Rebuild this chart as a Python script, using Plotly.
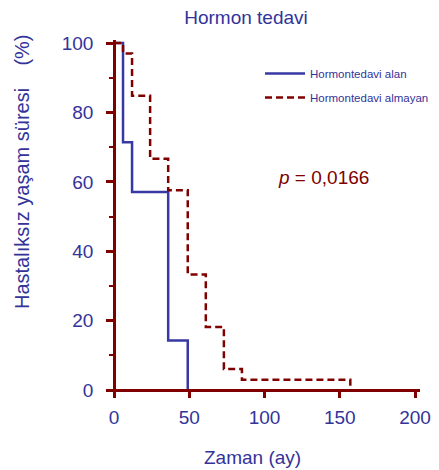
import plotly.graph_objects as go

# Kaplan-Meier step data (time in months, survival %)
alan_t = [0, 6, 12, 36, 49]
alan_s = [100, 71.4, 57.1, 14.3, 0]

almayan_t = [0, 6, 12, 24, 36, 49, 61, 73, 85, 157]
almayan_s = [100, 97.0, 84.8, 66.7, 57.6, 33.3, 18.2, 6.1, 3.0, 0]

x_ticks = [0, 50, 100, 150, 200]
y_ticks = [0, 20, 40, 60, 80, 100]

BLUE = "#333399"
LINE_BLUE = "#3838A4"
RED = "#800000"
FONT = "Liberation Sans, Arial, sans-serif"

# plot-area geometry (pixels)
L, R, T, B = 107, 19, 40, 74
W, H = 439 - L - R, 470 - T - B

fig = go.Figure()
fig.add_trace(go.Scatter(
    x=alan_t, y=alan_s, mode="lines", line_shape="hv",
    line=dict(color=LINE_BLUE, width=2.5),
    name="Hormontedavi alan", legendgroup="a"))
fig.add_trace(go.Scatter(
    x=almayan_t, y=almayan_s, mode="lines", line_shape="hv",
    line=dict(color=RED, width=2.5, dash="7px,4px"),
    name="Hormontedavi almayan", legendgroup="b"))

# p-value
fig.add_annotation(
    xref="paper", yref="paper", x=(323 - L) / W, y=(470 - B - 178) / H,
    xanchor="center", yanchor="middle", text="<i>p</i> = 0,0166",
    showarrow=False, font=dict(family=FONT, size=19, color=RED))

# y-axis title
fig.add_annotation(
    xref="paper", yref="paper", x=(22 - L) / W, y=(470 - B - 172) / H,
    xanchor="center", yanchor="middle", textangle=-90,
    text="Hastalıksız yaşam süresi&nbsp;&nbsp;&nbsp; (%)",
    showarrow=False, font=dict(family=FONT, size=20, color=BLUE))

# x-axis title
fig.add_annotation(
    xref="paper", yref="paper", x=(252 - L) / W, y=(470 - B - 457) / H,
    xanchor="center", yanchor="middle",
    text="Zaman (ay)",
    showarrow=False, font=dict(family=FONT, size=19, color=BLUE))

fig.update_layout(
    width=439, height=470,
    margin=dict(l=L, r=R, t=T, b=B, autoexpand=False),
    paper_bgcolor="white", plot_bgcolor="white",
    font=dict(family=FONT, color=BLUE),
    title=dict(text="Hormon tedavi", x=246 / 439, xanchor="center", y=1 - 17 / 470, yanchor="middle",
               font=dict(family=FONT, size=19, color=BLUE)),
    showlegend=True,
    legend=dict(x=(265 - L - 5) / W, y=1 - (71 - T - 12) / H, xanchor="left", yanchor="top",
                font=dict(family=FONT, size=11.5, color=BLUE),
                bgcolor="rgba(0,0,0,0)", tracegroupgap=5, itemwidth=40),
    xaxis=dict(range=[-4.65, 203.3], tickvals=x_ticks, ticks="outside", ticklen=6,
               tickwidth=2.5, tickcolor=RED, showline=True, linecolor=RED, linewidth=2.5,
               showgrid=False, zeroline=False, anchor="free", position=6 / H,
               automargin=False,
               tickfont=dict(size=19, color=BLUE), ticklabelstandoff=3),
    yaxis=dict(range=[-1.7, 100.9], tickvals=y_ticks, ticks="outside", ticklen=7,
               tickwidth=2.5, tickcolor=RED, showline=True, linecolor=RED, linewidth=2.5,
               showgrid=False, zeroline=False, anchor="free", position=7 / W,
               automargin=False,
               tickfont=dict(size=19, color=BLUE), ticklabelstandoff=9,
               minor=dict(tickvals=[10, 30, 50, 70, 90], ticks="outside", ticklen=4,
                          tickwidth=2, tickcolor=RED)),
)

fig.write_html("out.html")
